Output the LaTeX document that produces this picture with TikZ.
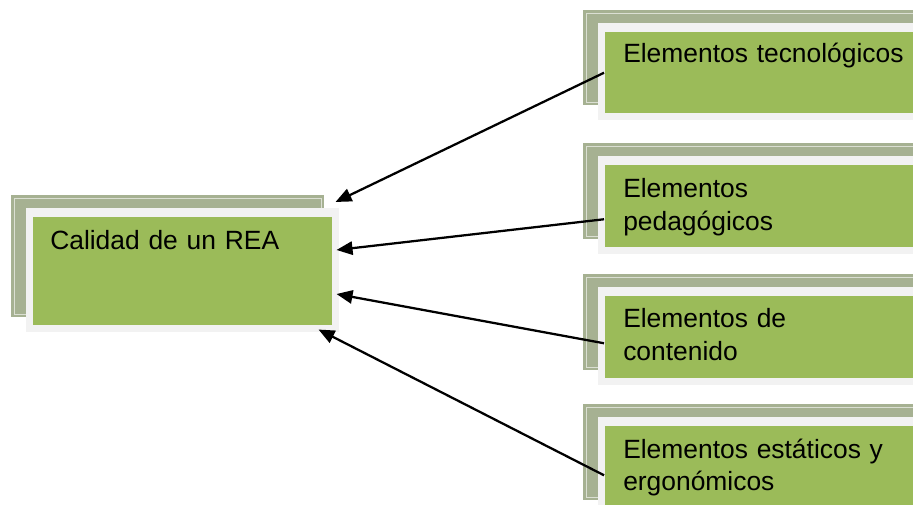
\documentclass[tikz,border=0pt]{standalone}
\usepackage{fontspec}
\setmainfont{Liberation Sans}
\usetikzlibrary{calc,arrows.meta}
\definecolor{backc}{RGB}{166,177,146}
\definecolor{greenc}{RGB}{155,187,89}
\definecolor{framec}{RGB}{242,242,242}
\tikzset{
  greenbox/.style={fill=greenc, draw=none, inner sep=0pt, anchor=north west},
  framefill/.style={fill=framec},
  backfill/.style={fill=backc},
  innerline/.style={draw=white, opacity=0.6, line width=0.6pt},
  lbl/.style={anchor=base west, inner sep=0pt, text width=240pt, align=left,
    font=\fontsize{19.8pt}{24.3pt}\selectfont},
  conn/.style={line width=1.7pt, -{Triangle[length=12pt,width=10pt]}}
}
\newcommand\decobox[4]{%
  \fill[backfill] (#1-22,#2-22) rectangle (#3-8,#4-8);
  \draw[innerline] (#1-19,#2-19) rectangle (#3-11,#4-11);
  \fill[framefill] (#1-7,#2-9) rectangle (#3+7,#4+7);
}
\begin{document}
\begin{tikzpicture}[x=0.75pt,y=-0.75pt]
\useasboundingbox (0,0) rectangle (913,505);
\clip (0,0) rectangle (913,505);
% decorations
\decobox{33}{217}{332}{325}
\decobox{605}{32}{940}{113}
\decobox{605}{165}{940}{247}
\decobox{605}{296}{940}{378}
\decobox{605}{426}{940}{508}
% green boxes
\node[greenbox, minimum width=224.25pt, minimum height=81pt] (L) at (33,217) {};
\node[greenbox, minimum width=251.25pt, minimum height=60.75pt] (R1) at (605,32) {};
\node[greenbox, minimum width=251.25pt, minimum height=61.5pt] (R2) at (605,165) {};
\node[greenbox, minimum width=251.25pt, minimum height=61.5pt] (R3) at (605,296) {};
\node[greenbox, minimum width=251.25pt, minimum height=61.5pt] (R4) at (605,426) {};
% texts
\node[lbl] (Lt) at ($(L.north west)+(17,33)$) {Calidad de un REA};
\node[lbl] (R1t) at ($(R1.north west)+(18,31)$) {Elementos tecnológicos};
\node[lbl] (R2t) at ($(R2.north west)+(18,33)$) {Elementos\\pedagógicos};
\node[lbl] (R3t) at ($(R3.north west)+(18,32)$) {Elementos de\\contenido};
\node[lbl] (R4t) at ($(R4.north west)+(18,32)$) {Elementos estáticos y\\ergonómicos};
% connectors
\coordinate (T1) at ($(L.north east)+(3,-15)$);
\coordinate (T2) at ($(L.north east)+(4,33)$);
\coordinate (T3) at ($(L.north east)+(4,77)$);
\coordinate (T4) at ($(L.south east)+(-14,4)$);
\draw[conn] ($(R1.west)+(-1,0)$) -- (T1);
\draw[conn] ($(R2.west)+(-1,13)$) -- (T2);
\draw[conn] ($(R3.west)+(-1,6)$) -- (T3);
\draw[conn] ($(R4.west)+(-1,8)$) -- (T4);
\end{tikzpicture}
\end{document}
